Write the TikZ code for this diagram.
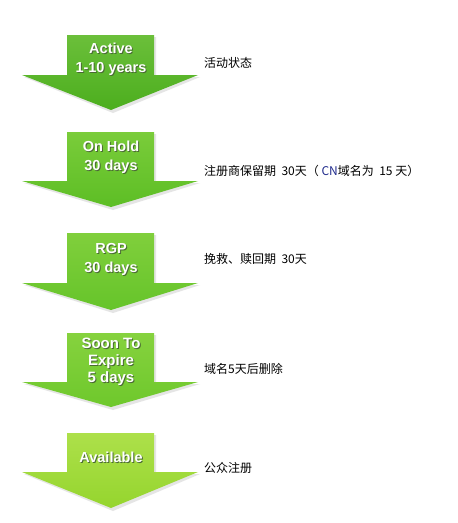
\documentclass[tikz,border=0pt]{standalone}
\usepackage{fontspec}
\setmainfont{Liberation Sans}
\newfontfamily\cjk{Noto Sans CJK SC}
\usetikzlibrary{calc}
\definecolor{sdw}{HTML}{2A5010}
\definecolor{cnblue}{HTML}{1F2A8C}
\definecolor{ga1}{HTML}{6BBF3A}\definecolor{gb1}{HTML}{4CAE1E}
\definecolor{ga2}{HTML}{7ACC3A}\definecolor{gb2}{HTML}{5DBE25}
\definecolor{ga3}{HTML}{80CF3C}\definecolor{gb3}{HTML}{66C42A}
\definecolor{ga4}{HTML}{86D23E}\definecolor{gb4}{HTML}{6EC82C}
\definecolor{ga5}{HTML}{ADE04A}\definecolor{gb5}{HTML}{95D52E}
\newcommand{\shtxt}[1]{\rlap{\kern1pt\raisebox{-1pt}{\color{sdw!85}#1}}#1}
% #1 name, #2 top y, #3 shoulder y, #4 tip y, #5 top colour, #6 bottom colour
\newcommand{\greenarrow}[6]{%
  \path[arrowbody, top color=#5, bottom color=#6]
    (67,#2) -- (154,#2) -- (154,#3) -- (198,#3) -- (111,#4) -- (22,#3) -- (67,#3) -- cycle;
  \coordinate (#1) at (111,#2);
}
\tikzset{
  arrowbody/.style={draw=none},
  intext/.style={text=white, font=\bfseries\fontsize{14.5}{19}\selectfont, align=center, inner sep=0pt},
  note/.style={anchor=west, font=\cjk\fontsize{12}{14}\selectfont, inner sep=0pt, text=black}
}
\begin{document}
\begin{tikzpicture}[x=1pt,y=-1pt]
\useasboundingbox (0,0) rectangle (458,523);
\fill[white] (0,0) rectangle (458,523);

% soft shadows
\foreach \t/\s/\p in {35/75/110,132/181/207,233/283/310,333/382/407,433/472/508}{
  \fill[black!10] (69,\t+2) -- (156,\t+2) -- (156,\s+2) -- (200,\s+2) -- (113,\p+3) -- (24,\s+2) -- (69,\s+2) -- cycle;
}

\greenarrow{a1}{35}{75}{110}{ga1}{gb1}
\greenarrow{a2}{132}{181}{207}{ga2}{gb2}
\greenarrow{a3}{233}{283}{310}{ga3}{gb3}
\greenarrow{a4}{333}{382}{407}{ga4}{gb4}
\greenarrow{a5}{433}{472}{508}{ga5}{gb5}

\node[intext] (t1) at (111,60) {\shtxt{Active}\\\shtxt{1-10 years}};
\node[intext] (t2) at (111,158) {\shtxt{On Hold}\\\shtxt{30 days}};
\node[intext] (t3) at (111,260) {\shtxt{RGP}\\\shtxt{30 days}};
\node[intext, font=\bfseries\fontsize{15}{17}\selectfont] (t4) at (111,362) {\shtxt{Soon To}\\\shtxt{Expire}\\\shtxt{5 days}};
\node[intext] (t5) at (111,458) {\shtxt{Available}};

\node[note] (n1) at (204,63) {活动状态};
\node[note] (n2) at (204,171) {注册商保留期\ \ 30天（\ {\color{cnblue}CN}域名为\ \ 15\ 天）};
\node[note] (n3) at (204,259) {挽救、赎回期\ \ 30天};
\node[note] (n4) at (204,369) {域名5天后删除};
\node[note] (n5) at (204,468) {公众注册};
\end{tikzpicture}
\end{document}
